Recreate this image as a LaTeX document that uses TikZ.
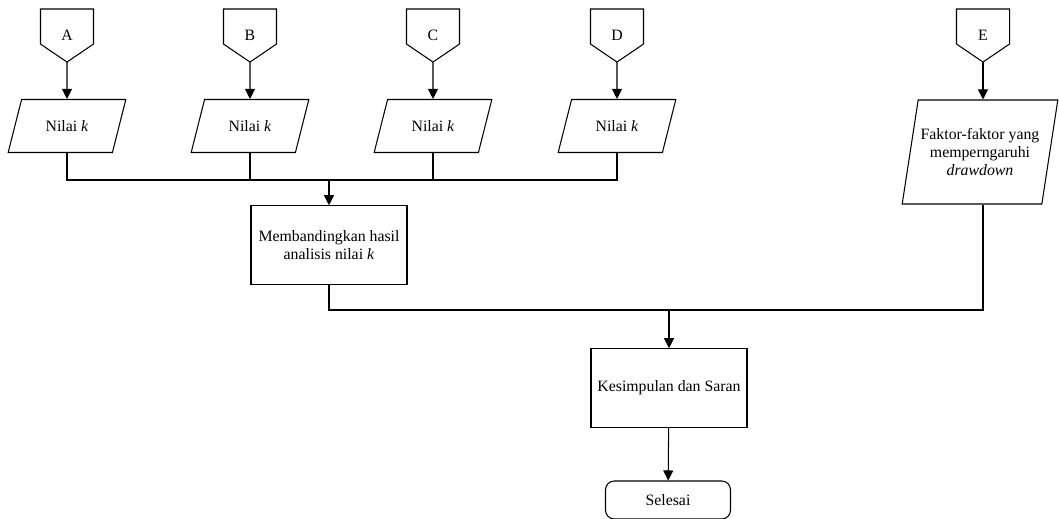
\documentclass[tikz,border=0pt]{standalone}
\usepackage{fontspec}
\setmainfont{Liberation Serif}
\usetikzlibrary{arrows.meta, shapes.geometric}

\begin{document}
\begin{tikzpicture}[
    x=0.02cm, y=-0.02cm,
    >={Triangle[length=2mm,width=2mm]},
    font=\fontsize{9}{10.5}\selectfont,
    line width=0.6pt,
    offpage/.style={
        minimum width=1.04cm, minimum height=1.04cm, inner sep=0pt, anchor=north
    },
    datain/.style={
        draw, trapezium, trapezium left angle=65, trapezium right angle=115,
        trapezium stretches=true, minimum width=2.36cm, minimum height=1.06cm,
        align=center, inner sep=1pt
    },
    proc/.style={draw, minimum width=3.12cm, minimum height=1.57cm, align=center},
    term/.style={draw, rounded corners=5pt, minimum width=2.5cm, minimum height=0.76cm},
    arr/.style={->},
]
\useasboundingbox (0,0) rectangle (1059,519);
% ---------- connectors from other pages ----------
\node[offpage] (pA) at ( 67, 9) {A};
\node[offpage] (pB) at (250, 9) {B};
\node[offpage] (pC) at (433, 9) {C};
\node[offpage] (pD) at (617, 9) {D};
\node[offpage] (pE) at (983, 9) {E};
\foreach \p in {pA,pB,pC,pD,pE}
    \draw (\p.north west) -- (\p.north east) -- ([yshift=0.36cm]\p.south east)
        -- (\p.south) -- ([yshift=0.36cm]\p.south west) -- cycle;
% ---------- input data ----------
\node[datain] (nA) at ( 67, 126) {Nilai \textit{k}};
\node[datain] (nB) at (250, 126) {Nilai \textit{k}};
\node[datain] (nC) at (433, 126) {Nilai \textit{k}};
\node[datain] (nD) at (617, 126) {Nilai \textit{k}};
\node[datain, trapezium left angle=73, trapezium right angle=107,
      minimum width=3.12cm, minimum height=2.08cm] (faktor) at (980, 152)
      {Faktor-faktor yang\\ memperngaruhi\\ \textit{drawdown}};
% ---------- processing ----------
\node[proc] (banding) at (329, 245) {Membandingkan hasil\\ analisis nilai \textit{k}};
\node[proc] (simpulan) at (669, 388) {Kesimpulan dan Saran};
\node[term] (selesai) at (668, 500) {Selesai};
% join points
\coordinate (join1) at (329, 180);
\coordinate (join2) at (669, 310);
% ===================== EDGES =====================
\draw[arr] (pA.south) -- (nA);
\draw[arr] (pB.south) -- (nB);
\draw[arr] (pC.south) -- (nC);
\draw[arr] (pD.south) -- (nD);
\draw[arr] (pE.south) -- (pE.south |- faktor.north);
\draw (nA.south) |- (join1);
\draw (nD.south) |- (join1);
\draw (nB.south) -- (nB.south |- join1);
\draw (nC.south) -- (nC.south |- join1);
\draw[arr] (join1) -- (banding);
\draw (banding.south) |- (join2);
\draw (faktor.south -| pE.south) |- (join2);
\draw[arr] (join2) -- (simpulan);
\draw[arr] (simpulan) -- (selesai);
\end{tikzpicture}
\end{document}
